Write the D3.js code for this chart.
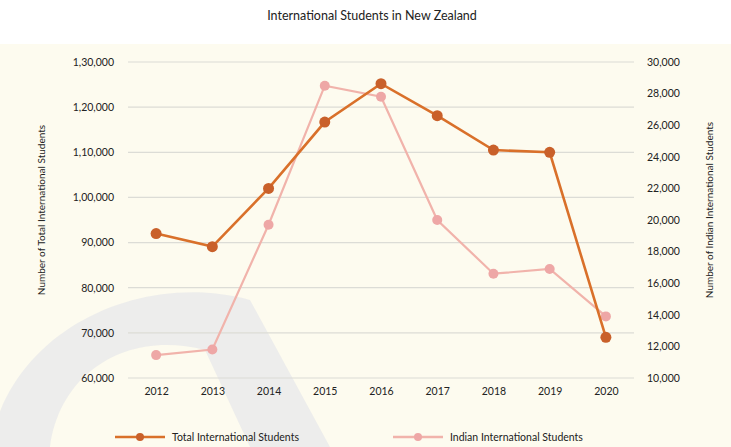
<!DOCTYPE html>
<html>
<head>
<meta charset="utf-8">
<script src="https://cdn.jsdelivr.net/npm/d3@7"></script>
<style>
  html, body { margin: 0; padding: 0; background: #ffffff; }
  svg { display: block; }
  text { font-family: Lato, "Open Sans", sans-serif; }
</style>
</head>
<body>
<svg id="chart" width="731" height="447"></svg>
<script>
const years = ["2012","2013","2014","2015","2016","2017","2018","2019","2020"];
const totalStudents = [92000, 89100, 102000, 116700, 125200, 118100, 110500, 110000, 69000];
const indianStudents = [11450, 11800, 19700, 28500, 27800, 20000, 16600, 16900, 13900];
const leftTicks = [60000, 70000, 80000, 90000, 100000, 110000, 120000, 130000];
const rightTicks = [10000, 12000, 14000, 16000, 18000, 20000, 22000, 24000, 26000, 28000, 30000];
const title = "International Students in New Zealand";
const leftTitle = "Number of Total International Students";
const rightTitle = "Number of Indian International Students";
const seriesNames = ["Total International Students", "Indian International Students"];

const W = 731, H = 447;
const m = { left: 128, right: 634, top: 62, bottom: 378 };
const svg = d3.select("#chart");

// background
svg.append("rect").attr("width", W).attr("height", H).attr("fill", "#fdfbef");
svg.append("rect").attr("x", 0).attr("y", 0).attr("width", W).attr("height", 44).attr("fill", "#ffffff");
// faint watermark arc
svg.append("path")
  .attr("d", "M -10 447 C 10 330, 140 270, 250 300 L 330 447 L 250 447 L 205 350 C 130 330, 60 370, 50 447 Z")
  .attr("fill", "#e3e5ea").attr("opacity", 0.6);

const x = d3.scalePoint().domain(years).range([m.left, m.right]).padding(0.5);
const yL = d3.scaleLinear().domain([60000, 130000]).range([m.bottom, m.top]);
const yR = d3.scaleLinear().domain([10000, 30000]).range([m.bottom, m.top]);

const inFmt = v => {
  const s = String(v);
  if (s.length <= 3) return s;
  const last3 = s.slice(-3);
  let rest = s.slice(0, -3);
  const parts = [];
  while (rest.length > 2) { parts.unshift(rest.slice(-2)); rest = rest.slice(0, -2); }
  if (rest.length) parts.unshift(rest);
  return parts.join(",") + "," + last3;
};

// gridlines
svg.append("g").selectAll("line").data(leftTicks).join("line")
  .attr("x1", m.left).attr("x2", m.right)
  .attr("y1", d => yL(d)).attr("y2", d => yL(d))
  .attr("stroke", "#dcdcd6").attr("stroke-width", 1.2);

// left axis
const gL = svg.append("g").attr("transform", `translate(${m.left - 10},0)`)
  .call(d3.axisLeft(yL).tickValues(leftTicks).tickFormat(inFmt).tickSize(0).tickPadding(4));
gL.select(".domain").remove();
gL.selectAll("text").attr("font-size", 10.5).attr("fill", "#222");

// right axis
const gR = svg.append("g").attr("transform", `translate(${m.right + 13},0)`)
  .call(d3.axisRight(yR).tickValues(rightTicks).tickFormat(d3.format(",")).tickSize(0).tickPadding(0));
gR.select(".domain").remove();
gR.selectAll("text").attr("font-size", 10.5).attr("fill", "#222");

// bottom axis
const gB = svg.append("g").attr("transform", `translate(0,${m.bottom + 4})`)
  .call(d3.axisBottom(x).tickSize(0).tickPadding(6));
gB.select(".domain").remove();
gB.selectAll("text").attr("font-size", 10.5).attr("fill", "#222");

// title
svg.append("text").attr("x", 372).attr("y", 20).attr("text-anchor", "middle")
  .attr("font-size", 12.5).attr("fill", "#222").text(title);

// axis titles
svg.append("text").attr("transform", `translate(45,210) rotate(-90)`)
  .attr("text-anchor", "middle").attr("font-size", 10).attr("fill", "#222").text(leftTitle);
svg.append("text").attr("transform", `translate(713,210) rotate(-90)`)
  .attr("text-anchor", "middle").attr("font-size", 10).attr("fill", "#222").text(rightTitle);

// lines
const cTotal = "#d9702a", cTotalM = "#c9602a";
const cIndian = "#f1b3ab", cIndianM = "#eea7a6";

const lineL = d3.line().x((d, i) => x(years[i])).y(d => yL(d));
const lineR = d3.line().x((d, i) => x(years[i])).y(d => yR(d));

svg.append("path").datum(indianStudents).attr("d", lineR)
  .attr("fill", "none").attr("stroke", cIndian).attr("stroke-width", 2.2);
svg.append("g").selectAll("circle").data(indianStudents).join("circle")
  .attr("cx", (d, i) => x(years[i])).attr("cy", d => yR(d)).attr("r", 5)
  .attr("fill", cIndianM);

svg.append("path").datum(totalStudents).attr("d", lineL)
  .attr("fill", "none").attr("stroke", cTotal).attr("stroke-width", 2.6);
svg.append("g").selectAll("circle").data(totalStudents).join("circle")
  .attr("cx", (d, i) => x(years[i])).attr("cy", d => yL(d)).attr("r", 5.5)
  .attr("fill", cTotalM);

// legend
const legend = [
  { name: seriesNames[0], c: cTotal, mc: cTotalM, x0: 115 },
  { name: seriesNames[1], c: cIndian, mc: cIndianM, x0: 393 }
];
const lg = svg.append("g").selectAll("g").data(legend).join("g")
  .attr("transform", d => `translate(${d.x0},437)`);
lg.append("line").attr("x1", 0).attr("x2", 50).attr("y1", 0).attr("y2", 0)
  .attr("stroke", d => d.c).attr("stroke-width", 2.5);
lg.append("circle").attr("cx", 25).attr("cy", 0).attr("r", 4).attr("fill", d => d.mc);
lg.append("text").attr("x", 57).attr("y", 3.5).attr("font-size", 10.5).attr("fill", "#222")
  .text(d => d.name);
</script>
</body>
</html>
